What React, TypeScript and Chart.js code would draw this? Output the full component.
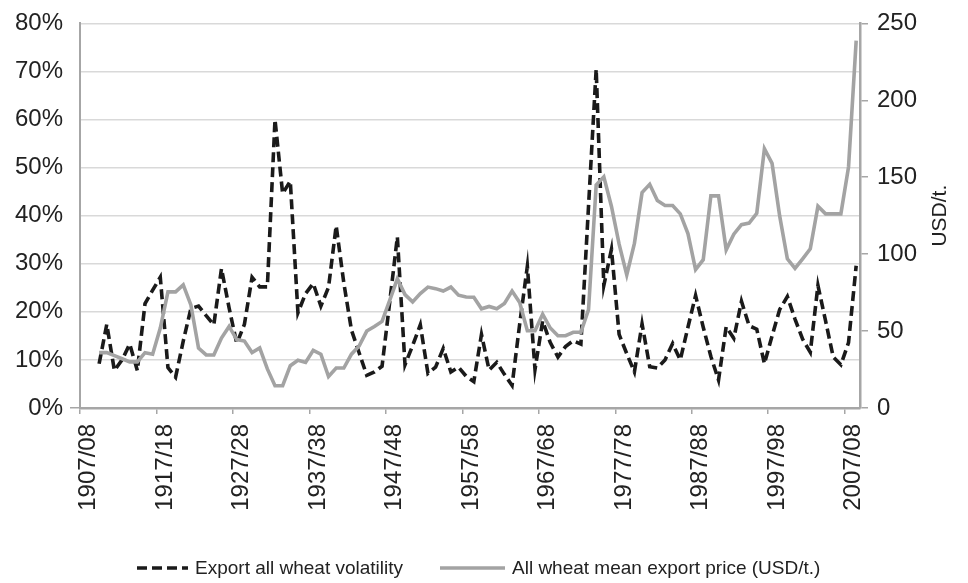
import React, { useEffect, useRef } from "react";
import { Chart, registerables } from "chart.js";

Chart.register(...registerables);

// Marketing seasons 1907/08 .. 2008/09
const FIRST_SEASON = 1907;
const LAST_SEASON = 2008;
const seasons: string[] = [];
for (let y = FIRST_SEASON; y <= LAST_SEASON; y++) {
  seasons.push(`${y}/${String((y + 1) % 100).padStart(2, "0")}`);
}

// Seasons before the series begin (1907/08, 1908/09)
const leadingGap: (number | null)[] = [null, null];

// Export all wheat volatility, % — 1909/10 .. 2008/09
const volatility: number[] = [
  9.2, 17.4, 7.8, 10, 13.3, 7.8, 21.7, 24.5, 27.2, 8.4,
  6.4, 13.9, 20.7, 21.2, 19.2, 17.3, 29, 20.8, 13.4, 17.4,
  27.2, 25.2, 25.2, 60, 44.6, 47.2, 19.8, 23.8, 25.9, 21.2,
  25.1, 37.9, 26, 16.2, 11.5, 6.8, 7.5, 8.7, 22, 35.6,
  9, 13, 17.3, 7.2, 8.5, 12.4, 7.5, 8.5, 6.6, 5.5,
  15.3, 7.9, 9.5, 7, 4.7, 17.5, 29.5, 8, 18.1, 13.6,
  10.6, 12.8, 14, 13.3, 42, 70.5, 25.5, 33, 15.3, 11.3,
  7.5, 17.5, 8.6, 8.3, 10, 13.4, 10, 16.8, 23.4, 16.8,
  10.7, 5.8, 16.9, 14.5, 22.2, 17.1, 16.4, 9.2, 15, 20.5,
  23.2, 18.5, 14.3, 11.6, 25.5, 18.1, 10.6, 9, 13.6, 29.6,
];

// All wheat mean export price, USD/t — 1909/10 .. 2008/09
const price: number[] = [
  36, 36, 34, 32, 30, 30, 36, 35, 52, 75.5,
  75.5, 80, 67, 39, 34.5, 34.5, 45.5, 53, 44.5, 43.5,
  36, 39, 25.4, 14.5, 14.5, 27.5, 31, 29.6, 37.5, 35,
  20.5, 26, 26, 35, 40.3, 50, 53, 56.3, 70, 84,
  73.7, 69, 74.4, 78.6, 77.6, 76, 78.6, 73.3, 72.2, 72,
  64.5, 66, 64.5, 68, 76, 68.5, 50.2, 50.2, 61, 52,
  47, 47, 49.2, 49.2, 64, 145, 150.3, 131, 106.5, 86.5,
  107, 140, 145.4, 134.8, 131.6, 131.6, 126.2, 113.4, 90, 96.4,
  137.9, 137.9, 102.8, 113, 119.2, 120.2, 126.6, 168.5, 159, 124.7,
  97, 90.7, 97, 103.5, 131.2, 126.2, 126.2, 126.2, 156.7, 238.8,
];

const LABEL_EVERY = 10;
const pctTicks = { min: 0, max: 80, step: 10 };
const usdTicks = { min: 0, max: 250, step: 50 };

const SERIES_VOL = "Export all wheat volatility";
const SERIES_PRICE = "All wheat mean export price (USD/t.)";
const RIGHT_TITLE = "USD/t.";

const FONT = "'Liberation Sans', Arial, Helvetica, sans-serif";
const TEXT = "#222222";
const AXIS = "#a6a6a6";
const GRID = "#d9d9d9";
const VOL_COLOR = "#1a1a1a";
const PRICE_COLOR = "#a3a3a3";
const VOL_DASH = [10, 5];

// Right-hand axis title, written bottom-to-top beside the USD scale
const rightTitlePlugin = {
  id: "rightTitle",
  afterDraw(chart: Chart) {
    const { ctx, chartArea } = chart;
    ctx.save();
    ctx.translate(940, (chartArea.top + chartArea.bottom) / 2);
    ctx.rotate(-Math.PI / 2);
    ctx.font = `21px ${FONT}`;
    ctx.fillStyle = TEXT;
    ctx.textAlign = "center";
    ctx.textBaseline = "middle";
    ctx.fillText(RIGHT_TITLE, 0, 0);
    ctx.restore();
  },
};

function WheatChart() {
  const canvasRef = useRef<HTMLCanvasElement | null>(null);

  useEffect(() => {
    document.body.style.margin = "0";
    const canvas = canvasRef.current;
    if (!canvas) return;

    const chart = new Chart(canvas, {
      type: "line",
      data: {
        labels: seasons,
        datasets: [
          {
            label: SERIES_VOL,
            data: [...leadingGap, ...volatility],
            yAxisID: "y",
            borderColor: VOL_COLOR,
            backgroundColor: VOL_COLOR,
            borderWidth: 3.6,
            borderDash: VOL_DASH,
            pointRadius: 0,
            tension: 0,
            order: 1,
          },
          {
            label: SERIES_PRICE,
            data: [...leadingGap, ...price],
            yAxisID: "y1",
            borderColor: PRICE_COLOR,
            backgroundColor: PRICE_COLOR,
            borderWidth: 3.6,
            pointRadius: 0,
            tension: 0,
            order: 0,
          },
        ],
      },
      options: {
        animation: false,
        responsive: true,
        maintainAspectRatio: false,
        layout: { padding: { top: 17, left: 0, right: 0, bottom: 0 } },
        plugins: {
          legend: { display: false },
          tooltip: { enabled: false },
        },
        scales: {
          x: {
            type: "category",
            offset: true,
            afterFit: (scale: any) => {
              scale.height = 175;
            },
            grid: {
              offset: true,
              drawOnChartArea: false,
              drawTicks: true,
              tickLength: 6,
              lineWidth: 1.5,
              color: (ctx: any) => (ctx.index % LABEL_EVERY === 0 ? AXIS : "rgba(0,0,0,0)"),
              tickColor: (ctx: any) => (ctx.index % LABEL_EVERY === 0 ? AXIS : "rgba(0,0,0,0)"),
            },
            border: { display: true, color: AXIS, width: 2.5 },
            ticks: {
              autoSkip: false,
              maxRotation: 90,
              minRotation: 90,
              padding: 10,
              labelOffset: 5,
              color: TEXT,
              font: { family: FONT, size: 24 },
              callback: (_v: any, i: number) => (i % LABEL_EVERY === 0 ? seasons[i] : ""),
            },
          },
          y: {
            position: "left",
            min: pctTicks.min,
            max: pctTicks.max,
            afterFit: (scale: any) => {
              scale.width = 80;
            },
            grid: {
              color: GRID,
              lineWidth: 1.5,
              drawTicks: true,
              tickLength: 10,
              tickColor: (ctx: any) => (ctx.tick && ctx.tick.value === 0 ? AXIS : "rgba(0,0,0,0)"),
            },
            border: { display: true, color: AXIS, width: 2 },
            ticks: {
              stepSize: pctTicks.step,
              padding: 7,
              color: TEXT,
              font: { family: FONT, size: 24 },
              callback: (v: any) => `${v}%`,
            },
          },
          y1: {
            position: "right",
            min: usdTicks.min,
            max: usdTicks.max,
            afterFit: (scale: any) => {
              scale.width = 108;
            },
            grid: {
              drawOnChartArea: false,
              drawTicks: true,
              tickLength: 8,
              color: AXIS,
              lineWidth: 1.5,
            },
            border: { display: true, color: AXIS, width: 2.5 },
            ticks: {
              stepSize: usdTicks.step,
              padding: 9,
              color: TEXT,
              font: { family: FONT, size: 24 },
            },
          },
        },
      },
      plugins: [rightTitlePlugin],
    });

    return () => chart.destroy();
  }, []);

  const legendText: React.CSSProperties = {
    fontFamily: FONT,
    fontSize: 19,
    color: TEXT,
    whiteSpace: "nowrap",
    marginLeft: 7,
  };
  const legendItem: React.CSSProperties = {
    position: "absolute",
    top: 556,
    height: 24,
    display: "flex",
    alignItems: "center",
  };

  return (
    <div style={{ position: "relative", width: 968, height: 583 }}>
      <canvas ref={canvasRef} />
      <div style={{ ...legendItem, left: 137 }}>
        <svg width={51} height={6}>
          <line x1={0} y1={3} x2={51} y2={3} stroke={VOL_COLOR} strokeWidth={3.6} strokeDasharray={VOL_DASH.join(" ")} />
        </svg>
        <span style={legendText}>{SERIES_VOL}</span>
      </div>
      <div style={{ ...legendItem, left: 440 }}>
        <svg width={65} height={6}>
          <line x1={0} y1={3} x2={65} y2={3} stroke={PRICE_COLOR} strokeWidth={3.6} />
        </svg>
        <span style={legendText}>{SERIES_PRICE}</span>
      </div>
    </div>
  );
}

export default function App() {
  return <WheatChart />;
}
